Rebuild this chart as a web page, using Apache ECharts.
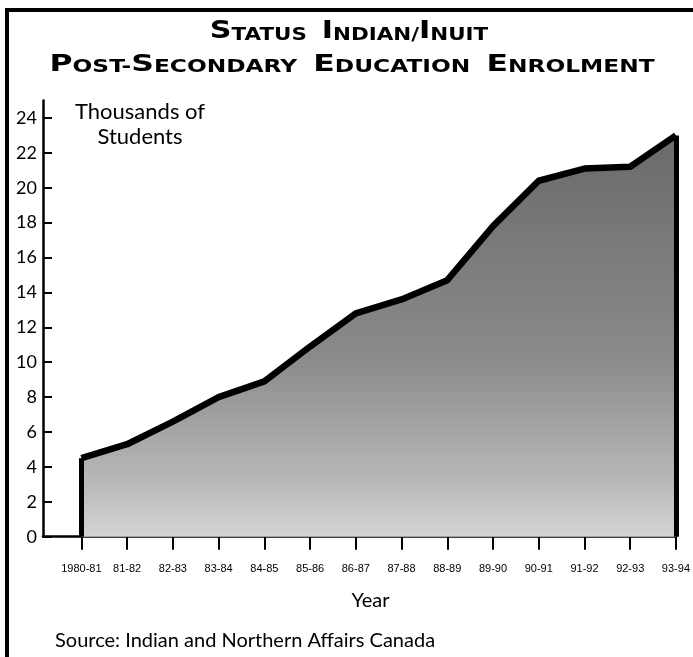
<!DOCTYPE html>
<html>
<head>
<meta charset="utf-8">
<script src="https://cdn.jsdelivr.net/npm/echarts@6/dist/echarts.min.js"></script>
<style>
  html, body { margin: 0; padding: 0; background: #fff; }
  #chart { width: 693px; height: 657px; }
</style>
</head>
<body>
<div id="chart"></div>
<script>
// enrolment in thousands of students
const years = ['1980-81', '81-82', '82-83', '83-84', '84-85', '85-86', '86-87',
  '87-88', '88-89', '89-90', '90-91', '91-92', '92-93', '93-94'];
const enrolment = [4.5, 5.3, 6.6, 8.0, 8.9, 10.9, 12.8, 13.6, 14.7, 17.8, 20.4, 21.1, 21.2, 23.0];
const yTicks = [0, 2, 4, 6, 8, 10, 12, 14, 16, 18, 20, 22, 24];
const xTicks = years.map((d, i) => i);

const last = years.length - 1;
const capFont = 'DejaVu Sans';

const chart = echarts.init(document.getElementById('chart'));
chart.setOption({
  animation: false,
  title: [{
    text: 'Thousands of\nStudents',
    left: 135,
    top: 94,
    textAlign: 'center',
    textStyle: { fontFamily: 'Lato', fontSize: 22, fontWeight: 'normal', color: '#000', lineHeight: 25 }
  }, {
    text: 'Source: Indian and Northern Affairs Canada',
    left: 50,
    top: 626,
    textStyle: { fontFamily: 'Lato', fontSize: 20, fontWeight: 'normal', color: '#000' }
  }],
  graphic: [{
    type: 'rect',
    shape: { x: 7, y: 10, width: 720, height: 700 },
    style: { fill: 'none', stroke: '#000', lineWidth: 4 }
  }, {
    type: 'text',
    x: 349, y: 32, scaleX: 1.26,
    style: {
      text: '{b|S}{s|TATUS}  {b|I}{s|NDIAN}{s|/}{b|I}{s|NUIT}',
      align: 'center', verticalAlign: 'middle',
      rich: {
        b: { fontFamily: capFont, fontWeight: 'bold', fontSize: 24, verticalAlign: 'bottom', lineHeight: 24 },
        s: { fontFamily: capFont, fontWeight: 'bold', fontSize: 17, verticalAlign: 'bottom', lineHeight: 24 }
      },
      fontFamily: capFont, fontWeight: 'bold', fontSize: 17
    }
  }, {
    type: 'text',
    x: 352, y: 65, scaleX: 1.37,
    style: {
      text: '{b|P}{s|OST-}{b|S}{s|ECONDARY}  {b|E}{s|DUCATION}  {b|E}{s|NROLMENT}',
      align: 'center', verticalAlign: 'middle',
      rich: {
        b: { fontFamily: capFont, fontWeight: 'bold', fontSize: 23, verticalAlign: 'bottom', lineHeight: 23 },
        s: { fontFamily: capFont, fontWeight: 'bold', fontSize: 17, verticalAlign: 'bottom', lineHeight: 23 }
      },
      fontFamily: capFont, fontWeight: 'bold', fontSize: 17
    }
  }],
  grid: { left: 43, right: 10, top: 100.5, bottom: 120.3 },
  xAxis: {
    type: 'value',
    min: -0.84,
    max: last,
    name: 'Year',
    nameLocation: 'middle',
    nameGap: 54,
    nameTextStyle: { fontFamily: 'Lato', fontSize: 20, color: '#000', padding: [0, 0, 0, 22] },
    axisLine: { show: true, onZero: false, lineStyle: { color: '#000', width: 2.5 } },
    axisTick: { show: true, customValues: xTicks, length: 13, lineStyle: { color: '#000', width: 2 } },
    axisLabel: {
      customValues: xTicks,
      formatter: v => years[v],
      margin: 27,
      fontFamily: 'Liberation Sans',
      fontSize: 11,
      color: '#000'
    },
    splitLine: { show: false }
  },
  yAxis: {
    type: 'value',
    min: 0,
    max: 25,
    axisLine: { show: true, onZero: false, lineStyle: { color: '#000', width: 2.5 } },
    axisTick: { show: true, inside: true, length: 9, customValues: yTicks, lineStyle: { color: '#000', width: 2 } },
    axisLabel: { customValues: yTicks, margin: 6, fontFamily: 'Lato', fontSize: 18, color: '#000' },
    splitLine: { show: false }
  },
  series: [{
    type: 'line',
    data: enrolment.map((v, i) => [i, v]),
    symbol: 'none',
    lineStyle: { color: '#000', width: 6.5, join: 'round' },
    areaStyle: {
      opacity: 1,
      color: new echarts.graphic.LinearGradient(0, 0, 0, 1, [
        { offset: 0, color: '#6a6a6a' },
        { offset: 0.55, color: '#8a8a8a' },
        { offset: 0.85, color: '#b6b6b6' },
        { offset: 1, color: '#d4d4d4' }
      ])
    },
    markLine: {
      silent: true,
      symbol: ['none', 'none'],
      label: { show: false },
      lineStyle: { color: '#000', width: 5, type: 'solid' },
      data: [
        [{ coord: [0, 0] }, { coord: [0, enrolment[0]] }],
        [{ coord: [last, 0] }, { coord: [last, enrolment[last]] }]
      ]
    }
  }]
});
</script>
</body>
</html>
